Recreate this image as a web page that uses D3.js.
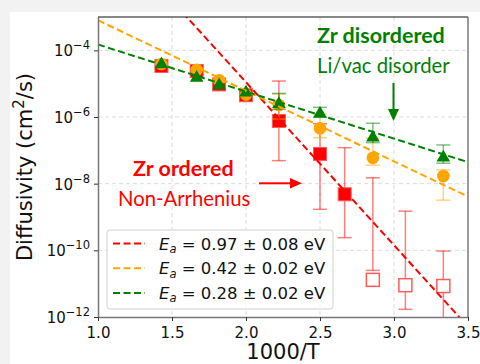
<!DOCTYPE html>
<html>
<head>
<meta charset="utf-8">
<script src="https://cdn.jsdelivr.net/npm/d3@7"></script>
<style>
  body { margin: 0; background: #f2f2f2; }
  svg { display: block; }
</style>
</head>
<body>
<div id="chart"></div>
<script>
// temperatures (K) of the simulations, x axis is 1000/T
var tRed = [700, 600, 550, 500, 450, 400, 375, 350, 325, 300];
var tOG = [700, 600, 550, 500, 450, 400, 350, 300];

// Zr ordered (red squares), last three are open squares
var dRed  = [3.4e-5, 2.4e-5, 9.5e-6, 4.5e-6, 7.6e-7, 7.8e-8, 4.8e-9, 1.3e-11, 9e-12, 8.5e-12];
var loRed = [3.4e-5, 2.4e-5, 9.5e-6, 4.5e-6, 4.9e-8, 1.7e-9, 2.4e-10, 2.5e-11, 1.7e-12, 1e-13];
var hiRed = [3.4e-5, 2.4e-5, 9.5e-6, 4.5e-6, 1.2e-5, 6.3e-7, 1.2e-7, 1.5e-8, 1.5e-9, 9.5e-11];
var openRed = [0, 0, 0, 0, 0, 0, 0, 1, 1, 1];

// Li/vac disorder (orange circles)
var dOrange  = [3.9e-5, 2.6e-5, 1.26e-5, 4.7e-6, 2.3e-6, 4.6e-7, 6e-8, 1.7e-8];
var loOrange = [3.9e-5, 2.6e-5, 1.26e-5, 4.7e-6, 8.7e-7, 2.4e-7, 3.6e-8, 3.2e-9];
var hiOrange = [3.9e-5, 2.6e-5, 1.26e-5, 4.7e-6, 4.9e-6, 1.2e-6, 2.3e-7, 2.6e-8];

// Zr disordered (green triangles)
var dGreen  = [4.1e-5, 1.6e-5, 9.5e-6, 5.8e-6, 2.6e-6, 1.35e-6, 2.6e-7, 6.5e-8];
var loGreen = [4.1e-5, 1.6e-5, 9.5e-6, 5.8e-6, 1.7e-6, 9.8e-7, 1.7e-7, 4.1e-8];
var hiGreen = [4.1e-5, 1.6e-5, 9.5e-6, 5.8e-6, 5.1e-6, 1.95e-6, 6.5e-7, 1.45e-7];

// Arrhenius fits: activation energy (eV), error, log10 prefactor
var fitEa = [0.97, 0.42, 0.28];
var fitErr = [0.08, 0.02, 0.02];
var fitLogD0 = [4.82, -0.98, -2.415];
var fitColor = ["red", "orange", "green"];

var xTicks = [1.0, 1.5, 2.0, 2.5, 3.0, 3.5];
var yTickExp = [-12, -10, -8, -6, -4];

var W = 480, H = 364;
var pL = 98, pR = 468, pT = 17, pB = 317;
var kB = 8.617e-5;

var svg = d3.select("#chart").append("svg")
    .attr("width", W).attr("height", H);

// white figure panel
svg.append("rect").attr("x", 10).attr("y", 12)
    .attr("width", W - 10).attr("height", H - 12).attr("fill", "white");

var x = d3.scaleLinear().domain([1.0, 3.5]).range([pL, pR]);
var y = d3.scaleLog().domain([1e-12, 1e-3]).range([pB, pT]);

svg.append("clipPath").attr("id", "clip")
    .append("rect").attr("x", pL).attr("y", pT)
    .attr("width", pR - pL).attr("height", pB - pT);

// grid
var grid = svg.append("g");
grid.selectAll(".gx").data(xTicks.slice(1, -1)).enter().append("line")
    .attr("x1", function (d) { return x(d); }).attr("x2", function (d) { return x(d); })
    .attr("y1", pT).attr("y2", pB);
grid.selectAll(".gy").data(yTickExp.slice(1)).enter().append("line")
    .attr("x1", pL).attr("x2", pR)
    .attr("y1", function (d) { return y(Math.pow(10, d)); })
    .attr("y2", function (d) { return y(Math.pow(10, d)); });
grid.selectAll("line").attr("stroke", "#dcdcdc").attr("stroke-width", 1)
    .attr("stroke-dasharray", "4,3");

var plot = svg.append("g").attr("clip-path", "url(#clip)");

// error bars + markers for one series
function series(ts, d, lo, hi, color, drawMarker) {
    var rows = ts.map(function (t, i) {
        return {x: 1000 / t, d: d[i], lo: lo[i], hi: hi[i], i: i};
    });
    var g = plot.append("g");
    var eb = g.selectAll(".eb").data(rows.filter(function (r) { return r.hi > r.lo; }))
        .enter().append("g")
        .attr("stroke", color).attr("stroke-opacity", 0.5).attr("stroke-width", 1.5);
    eb.append("line")
        .attr("x1", function (r) { return x(r.x); }).attr("x2", function (r) { return x(r.x); })
        .attr("y1", function (r) { return y(r.lo); }).attr("y2", function (r) { return y(r.hi); });
    eb.append("line")
        .attr("x1", function (r) { return x(r.x) - 7; }).attr("x2", function (r) { return x(r.x) + 7; })
        .attr("y1", function (r) { return y(r.lo); }).attr("y2", function (r) { return y(r.lo); });
    eb.append("line")
        .attr("x1", function (r) { return x(r.x) - 7; }).attr("x2", function (r) { return x(r.x) + 7; })
        .attr("y1", function (r) { return y(r.hi); }).attr("y2", function (r) { return y(r.hi); });
    drawMarker(g.selectAll(".m").data(rows).enter());
}

series(tRed, dRed, loRed, hiRed, "red", function (sel) {
    sel.append("rect")
        .attr("x", function (r) { return x(r.x) - 6.5; })
        .attr("y", function (r) { return y(r.d) - 6.5; })
        .attr("width", 13).attr("height", 13)
        .attr("fill", function (r) { return openRed[r.i] ? "white" : "red"; })
        .attr("stroke", "#ff5a5a").attr("stroke-width", function (r) { return openRed[r.i] ? 1.5 : 1; });
});

series(tOG, dOrange, loOrange, hiOrange, "orange", function (sel) {
    sel.append("circle")
        .attr("cx", function (r) { return x(r.x); })
        .attr("cy", function (r) { return y(r.d); })
        .attr("r", 6.3).attr("fill", "orange");
});

var tri = d3.symbol().type(d3.symbolTriangle).size(80);
series(tOG, dGreen, loGreen, hiGreen, "green", function (sel) {
    sel.append("path")
        .attr("d", tri)
        .attr("transform", function (r) { return "translate(" + x(r.x) + "," + (y(r.d) + 1) + ")"; })
        .attr("fill", "green");
});

// Arrhenius fit lines
var fitLine = d3.line()
    .x(function (p) { return x(p[0]); })
    .y(function (p) { return y(p[1]); });
fitEa.forEach(function (ea, k) {
    var slope = ea / (Math.LN10 * kB * 1000);
    var pts = x.domain().map(function (v) {
        return [v, Math.pow(10, fitLogD0[k] - slope * v)];
    });
    plot.append("path").attr("d", fitLine(pts))
        .attr("fill", "none").attr("stroke", fitColor[k])
        .attr("stroke-width", 2).attr("stroke-dasharray", "7,3.5");
});

// axes
var xAxis = svg.append("g").attr("transform", "translate(0," + pB + ")")
    .call(d3.axisBottom(x).tickValues(xTicks).tickFormat(d3.format(".1f")).tickSize(4).tickSizeOuter(0));
var yAxis = svg.append("g").attr("transform", "translate(" + pL + ",0)")
    .call(d3.axisLeft(y).tickValues(yTickExp.map(function (e) { return Math.pow(10, e); }))
        .tickFormat("").tickSize(4).tickSizeOuter(0));
[xAxis, yAxis].forEach(function (a) {
    a.select(".domain").attr("stroke", "#777").attr("stroke-width", 1.5);
    a.selectAll(".tick line").attr("stroke", "#333").attr("stroke-width", 1);
});
xAxis.selectAll(".tick text")
    .attr("font-family", "DejaVu Sans").attr("font-size", 15).attr("fill", "#111").attr("dy", "0.95em");

yAxis.selectAll(".tick").each(function (d) {
    var t = d3.select(this).append("text")
        .attr("x", -8).attr("y", 5.5)
        .attr("text-anchor", "end").attr("fill", "#111")
        .attr("font-family", "DejaVu Sans").attr("font-size", 15);
    t.append("tspan").text("10");
    t.append("tspan").attr("dy", -7).attr("font-size", 11.5)
        .text("\u2212" + (-Math.round(Math.log10(d))));
});

// top and right frame
svg.append("line").attr("x1", pL).attr("x2", pR).attr("y1", pT).attr("y2", pT)
    .attr("stroke", "#111").attr("stroke-width", 1.2);
svg.append("line").attr("x1", pR).attr("x2", pR).attr("y1", pT).attr("y2", pB)
    .attr("stroke", "#777").attr("stroke-width", 1.5);

// axis titles
svg.append("text").attr("x", (pL + pR) / 2).attr("y", 359)
    .attr("text-anchor", "middle").attr("font-family", "DejaVu Sans").attr("font-size", 21)
    .attr("fill", "#111").text("1000/T");
var yl = svg.append("text")
    .attr("transform", "translate(32," + ((pT + pB) / 2) + ") rotate(-90)")
    .attr("text-anchor", "middle").attr("font-family", "DejaVu Sans").attr("font-size", 21)
    .attr("fill", "#111");
yl.append("tspan").text("Diffusivity (cm");
yl.append("tspan").attr("dy", -8).attr("font-size", 15).text("2");
yl.append("tspan").attr("dy", 8).text("/s)");

// annotations
svg.append("text").attr("x", 317).attr("y", 43).attr("font-family", "Lato")
    .attr("font-weight", "bold").attr("font-size", 21.5).attr("fill", "green").text("Zr disordered");
svg.append("text").attr("x", 317).attr("y", 72.5).attr("font-family", "Lato")
    .attr("font-size", 20.3).attr("fill", "green").text("Li/vac disorder");
svg.append("text").attr("x", 133).attr("y", 175.5).attr("font-family", "Lato")
    .attr("font-weight", "bold").attr("font-size", 21.5).attr("fill", "red").text("Zr ordered");
svg.append("text").attr("x", 118).attr("y", 206).attr("font-family", "Lato")
    .attr("font-size", 20.3).attr("fill", "red").text("Non-Arrhenius");

// arrows
svg.append("line").attr("x1", 393.5).attr("x2", 393.5).attr("y1", 83).attr("y2", 110)
    .attr("stroke", "green").attr("stroke-width", 2);
svg.append("path").attr("d", "M388,109 L399,109 L393.5,121 Z").attr("fill", "green");
svg.append("line").attr("x1", 259).attr("x2", 291).attr("y1", 183.3).attr("y2", 183.3)
    .attr("stroke", "red").attr("stroke-width", 2);
svg.append("path").attr("d", "M290,178 L290,188.6 L302,183.3 Z").attr("fill", "red");

// legend
var lg = svg.append("g");
lg.append("rect").attr("x", 107).attr("y", 230).attr("width", 226).attr("height", 79)
    .attr("rx", 3).attr("fill", "white").attr("fill-opacity", 0.8)
    .attr("stroke", "#d0d0d0").attr("stroke-width", 1);
var rows = lg.selectAll(".row").data(fitEa).enter().append("g")
    .attr("transform", function (d, i) { return "translate(0," + (243.5 + i * 24.7) + ")"; });
rows.append("line").attr("x1", 113).attr("x2", 145).attr("y1", 0).attr("y2", 0)
    .attr("stroke", function (d, i) { return fitColor[i]; })
    .attr("stroke-width", 2).attr("stroke-dasharray", "7,3.5");
var lt = rows.append("text").attr("x", 159).attr("y", 6)
    .attr("font-family", "DejaVu Sans").attr("font-size", 16.5).attr("fill", "#111");
lt.append("tspan").attr("font-style", "italic").text("E");
lt.append("tspan").attr("font-style", "italic").attr("font-size", 11.5).attr("dy", 3.5).text("a");
lt.append("tspan").attr("dy", -3.5)
    .text(function (d, i) { return " = " + d.toFixed(2) + " \u00b1 " + fitErr[i].toFixed(2) + " eV"; });
</script>
</body>
</html>
